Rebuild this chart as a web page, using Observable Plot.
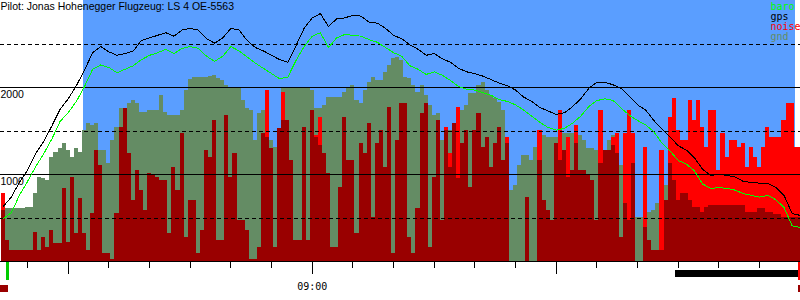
<!DOCTYPE html>
<html><head><meta charset="utf-8">
<script src="https://cdn.jsdelivr.net/npm/d3@7"></script>
<script src="https://cdn.jsdelivr.net/npm/@observablehq/plot@0.6"></script>
<style>
html,body{margin:0;padding:0;background:#fff;}
#chart svg{display:block;shape-rendering:crispEdges;}
</style></head><body><div id="chart"></div>
<script>
const title = "Pilot: Jonas Hohenegger Flugzeug: LS 4 OE-5563";
const xDomain = ["07:43:21", "11:00:03"];
const seriesStart = "07:43:30";   // 1-minute samples (gnd, noise)
const lineStart = "07:44:00";     // 2-minute samples (gps, baro)
const taskWindow = [{start: "08:03:45", end: "10:58:50"}];
const minorTicks = ["07:50","08:10","08:20","08:30","08:40","08:50","09:10","09:20","09:30","09:40","09:50","10:10","10:20","10:30","10:40","10:50","11:00"];
const majorTicks = ["08:00","09:00","10:00"];
const tickLabels = ["09:00"];
const yLabels = [1000, 2000];
const solidGrid = [1000, 2000];
const dashedGrid = [500, 1500, 2500];
const legendNames = ["baro", "gps", "noise", "gnd"];
const takeoff = ["07:45:10"];
const landing = ["10:59:49"];
const engineRuns = [{start: "07:43:21", end: "07:45:19"}, {start: "10:59:35", end: "11:00:03"}];
const flaggedPeriods = [{start: "10:29:20", end: "10:59:35"}];

const gnd = [
610,610,610,610,610,610,620,620,780,970,
950,930,1200,1250,1300,1360,1280,1200,1300,1250,
1510,1590,1560,1590,1280,1280,1130,1390,1540,1760,
1760,1820,1850,1820,1710,1710,1740,1740,1740,1910,
1710,1680,1680,1680,1740,1970,2090,2120,2120,2120,
2120,2130,2140,2100,2080,2020,2000,2000,2000,1850,
1760,1740,1390,1700,1740,1680,1390,1310,1280,1990,
1990,1990,1990,1990,1990,1990,1970,1760,1760,1790,
1890,1890,1890,1890,1940,1990,2020,1850,1820,1970,
2060,2120,2080,2080,2170,2250,2330,2350,2310,2120,
2100,2020,1940,2020,1910,1790,1680,1700,1390,1510,
1510,1560,1620,1740,1790,1930,1930,2020,2060,1970,
1910,1870,1830,1740,1280,820,870,1100,1220,1220,
1160,1310,1430,1450,1430,1430,1430,1450,1470,1470,
1470,1450,1450,1390,1300,1300,1280,1360,1280,1390,
1450,1390,1100,820,700,590,510,510,620,560,
590,670,760,870,950,870,760,760,760,760,
760,760,760,760,760,760,780,780,780,780,
780,780,780,780,780,780,700,700,700,700,
700,700,700,700,700,700,700];

const noise = [
780,0,0,0,0,0,0,0,0,0,
0,0,0,0,0,0,0,0,0,0,
0,0,0,0,0,0,0,0,0,0,
0,0,0,0,0,0,0,0,0,0,
0,0,0,0,0,0,0,0,0,0,
0,0,0,0,0,0,0,0,0,0,
0,0,0,0,0,1970,0,0,0,1940,
0,0,0,0,0,0,0,1450,1660,0,
0,0,0,0,0,0,0,0,0,0,
0,0,0,0,0,0,0,0,0,0,
0,0,0,0,0,0,0,0,0,1540,
1240,0,1770,0,0,0,0,0,0,0,
0,0,0,0,1430,0,0,0,0,0,
0,0,1510,0,0,0,0,1740,0,1430,
0,1560,0,0,0,0,0,1740,0,0,
1430,1470,0,1470,1740,1470,0,0,1310,0,
0,0,1280,0,1660,1870,1510,1390,1390,1850,
1620,1850,1540,1310,1740,1740,1050,1470,1200,1390,
1390,1310,1360,1080,1310,1200,1080,1310,1540,1430,
1430,1430,1620,1820,1820,1310,1310];

const noiseDark = [
590,240,130,130,130,130,130,130,330,130,
280,160,360,210,210,840,220,960,320,720,
320,130,550,1280,1100,90,90,20,550,1540,
1760,1240,700,1050,820,590,1010,990,970,930,
930,320,1080,820,1470,280,700,700,90,360,
1280,1200,1620,240,240,1680,970,1240,470,470,
360,20,20,160,1470,1430,1300,160,1530,1620,
1620,1160,240,240,1540,240,1740,1430,1330,1240,
1010,160,160,850,1660,1160,1160,320,1360,1240,
1590,510,1360,1510,1080,1770,90,1390,1820,1820,
280,90,610,1700,1820,160,970,1620,470,1510,
1080,1590,950,1360,1510,850,1510,1700,1310,1430,
1080,1360,1540,1160,1360,0,0,0,0,740,
0,0,1160,700,590,470,1360,1160,1280,970,
1050,1360,1050,1050,990,930,470,1130,1280,1280,
1330,1240,280,670,470,1130,0,0,390,240,
130,130,130,700,1130,930,700,780,780,700,
620,620,560,620,640,640,640,640,640,640,
640,640,640,560,560,560,610,610,560,560,
540,540,510,510,510,510,510];

const gps = [
630,740,910,1050,1240,1380,1560,1750,1870,2020,
2200,2400,2470,2410,2370,2390,2420,2540,2570,2600,
2630,2590,2660,2680,2660,2560,2510,2570,2680,2660,
2540,2460,2420,2370,2320,2290,2480,2680,2800,2850,
2700,2790,2800,2830,2820,2750,2740,2680,2600,2560,
2490,2440,2370,2390,2330,2290,2220,2180,2160,2130,
2090,2050,2020,1970,1890,1840,1770,1730,1690,1710,
1780,1870,1990,2060,2060,2030,1990,1900,1800,1740,
1620,1520,1430,1330,1280,1190,1060,990,1000,990,
970,920,910,900,900,850,760,550,530];

const baro = [
490,560,760,920,1090,1240,1410,1610,1710,1840,
2010,2210,2260,2230,2170,2210,2250,2320,2370,2400,
2440,2390,2450,2470,2450,2360,2300,2360,2470,2420,
2350,2280,2220,2160,2100,2120,2310,2470,2590,2630,
2460,2570,2610,2600,2590,2550,2520,2460,2400,2360,
2250,2210,2150,2180,2140,2080,2010,1980,1970,1940,
1910,1860,1840,1800,1740,1670,1600,1540,1510,1530,
1590,1670,1780,1850,1870,1850,1760,1680,1620,1570,
1490,1360,1270,1160,1120,1040,890,840,850,840,
820,780,760,740,760,710,620,410,390];

// ---- styling / layout ----
const colors = {sky: "#5a9eff", gnd: "#648c64", noise: "#ff0000", noiseDark: "#990000",
  baro: "#00ff00", gps: "#000000", takeoff: "#00cc00", flagged: "#000000"};
const W = 800, H = 300, AXIS_PX = 261, yMax = 3000;
const pxPerM = AXIS_PX / yMax;
const below = px => -px / pxPerM;
const mono = "'DejaVu Sans Mono', monospace";
const sans = "'Liberation Sans', Arial, sans-serif";

const T = s => { const [h, m, sec = 0] = String(s).split(":").map(Number); return h * 60 + m + sec / 60; };
const t0 = T(seriesStart);
const bars = gnd.map((g, i) => ({t: t0 + i, gnd: g, noise: noise[i] || 0, dark: noiseDark[i] || 0}));
const lt0 = T(lineStart);
const track = gps.map((g, i) => ({t: lt0 + 2 * i, gps: g, baro: baro[i]}));

const chart = Plot.plot({
  width: W, height: H, margin: 0,
  x: {domain: xDomain.map(T), range: [0, W], axis: null},
  y: {domain: [below(H - AXIS_PX), yMax], range: [H, 0], axis: null},
  style: {background: "#fff", fontFamily: sans, overflow: "visible"},
  marks: [
    Plot.rect(taskWindow, {x1: d => T(d.start), x2: d => T(d.end), y1: 0, y2: yMax, fill: colors.sky}),
    Plot.rect(bars, {x1: "t", x2: d => d.t + 1, y1: 0, y2: "gnd", fill: colors.gnd}),
    Plot.rect(bars, {filter: d => d.noise > 0, x1: "t", x2: d => d.t + 1, y1: 0, y2: "noise", fill: colors.noise}),
    Plot.rect(bars, {filter: d => d.dark > 0, x1: "t", x2: d => d.t + 1, y1: 0, y2: "dark", fill: colors.noiseDark}),
    Plot.ruleY(dashedGrid, {stroke: "black", strokeDasharray: "4,3"}),
    Plot.ruleY(solidGrid, {stroke: "black"}),
    Plot.text(yLabels, {y: d => d, frameAnchor: "left", text: d => String(d), textAnchor: "start",
      lineAnchor: "top", dy: 3, fontSize: 10.5, fill: "black"}),
    Plot.line(track, {x: "t", y: "baro", stroke: colors.baro, strokeWidth: 1}),
    Plot.line(track, {x: "t", y: "gps", stroke: colors.gps, strokeWidth: 1}),
    Plot.ruleY([0], {stroke: "black"}),
    Plot.ruleX(minorTicks, {x: d => T(d), y1: 0, y2: below(7), stroke: "black"}),
    Plot.ruleX(majorTicks, {x: d => T(d), y1: 0, y2: below(13), stroke: "black"}),
    Plot.text(tickLabels, {x: d => T(d), y: below(25), text: d => d, fontFamily: mono, fontSize: 10, fill: "black"}),
    Plot.ruleX(takeoff, {x: d => T(d), y1: below(1), y2: below(19), stroke: colors.takeoff, strokeWidth: 3}),
    Plot.ruleX(landing, {x: d => T(d), y1: below(1), y2: below(19), stroke: colors.noise, strokeWidth: 3}),
    Plot.rect(engineRuns, {x1: d => T(d.start), x2: d => T(d.end), y1: below(24), y2: below(31), fill: colors.noiseDark}),
    Plot.rect(flaggedPeriods, {x1: d => T(d.start), x2: d => T(d.end), y1: below(9), y2: below(16), fill: colors.flagged}),
    Plot.text([title], {frameAnchor: "top-left", dx: 0, dy: 2, lineAnchor: "top", textAnchor: "start",
      text: d => d, fontSize: 10.5, fill: "black"}),
    ...legendNames.map((name, i) => Plot.text([name], {frameAnchor: "top-left", dx: 770, dy: 2 + 10 * i,
      lineAnchor: "top", textAnchor: "start", text: d => d, fill: colors[name], fontFamily: mono, fontSize: 10}))
  ]
});
document.getElementById("chart").appendChild(chart);
</script>
</body></html>
